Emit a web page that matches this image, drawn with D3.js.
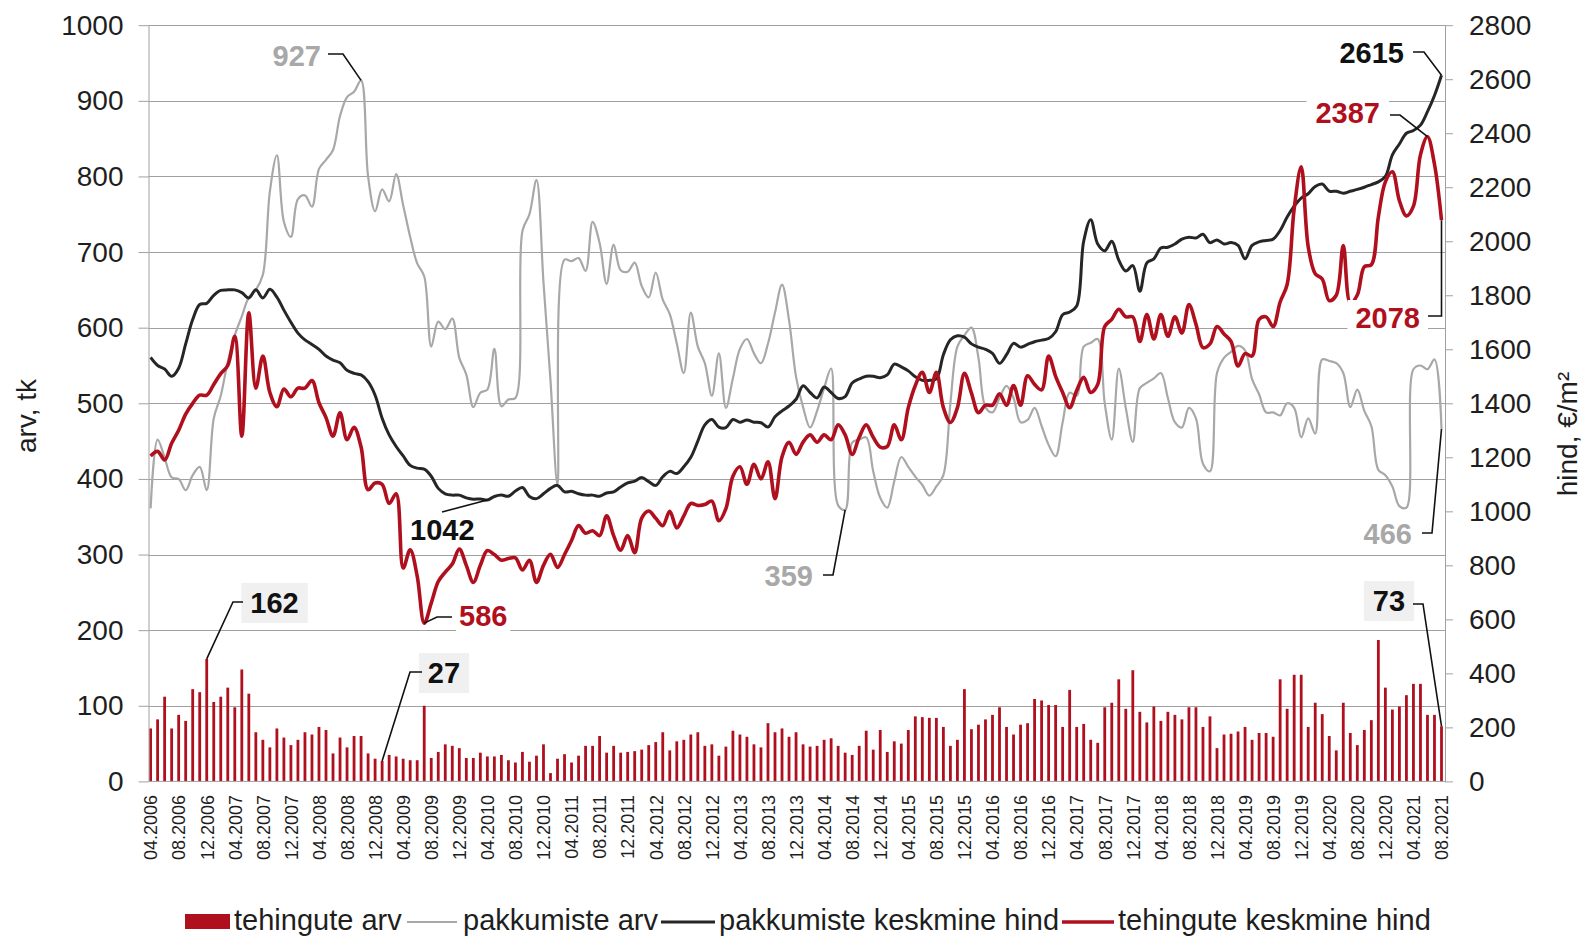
<!DOCTYPE html>
<html><head><meta charset="utf-8">
<script src="https://cdn.jsdelivr.net/npm/d3@7"></script>
<style>
html,body{margin:0;padding:0;background:#fff;overflow:hidden;}
svg{display:block;}
</style></head><body>
<svg id="c" width="1583" height="936"></svg>
<script>
// ---------- DATA ----------
const tickLabels = ["04.2006","08.2006","12.2006","04.2007","08.2007","12.2007","04.2008","08.2008","12.2008","04.2009","08.2009","12.2009","04.2010","08.2010","12.2010","04.2011","08.2011","12.2011","04.2012","08.2012","12.2012","04.2013","08.2013","12.2013","04.2014","08.2014","12.2014","04.2015","08.2015","12.2015","04.2016","08.2016","12.2016","04.2017","08.2017","12.2017","04.2018","08.2018","12.2018","04.2019","08.2019","12.2019","04.2020","08.2020","12.2020","04.2021","08.2021"];

// tehingute arv (bars, left axis)
const deals = [
70,82,112,70,88,80,122,118,162,105,
112,124,98,148,116,65,55,45,70,58,
48,55,65,62,72,68,37,58,45,60,
60,37,30,27,35,33,30,28,28,100,
31,39,49,47,44,31,31,38,33,33,
35,28,25,39,26,34,49,11,30,36,
25,34,47,47,60,38,47,38,39,40,
42,48,52,65,41,53,55,62,65,47,
49,34,46,67,62,59,49,45,77,65,
70,59,65,49,46,47,55,57,47,38,
35,47,67,42,68,39,53,50,68,86,
85,84,84,72,47,55,122,69,75,82,
88,98,72,62,75,77,109,107,101,101,
72,121,72,76,55,51,98,104,135,96,
147,92,78,99,80,92,88,82,98,98,
72,86,44,62,63,66,72,55,64,64,
59,135,96,141,141,72,104,89,60,41,
104,64,48,68,81,187,124,95,99,114,
129,129,88,88,73];

// pakkumiste arv (grey line, left axis)
const offers = [
361,452,428,402,400,385,405,416,385,480,
510,555,590,615,640,650,670,780,828,740,
720,770,775,760,810,822,835,880,905,912,
927,800,754,783,767,803,762,720,685,668,
575,608,598,612,560,538,495,514,518,572,
496,505,507,728,750,795,660,530,392,690,
688,692,675,740,712,658,710,676,674,686,
655,640,673,637,618,579,540,620,575,553,
510,566,494,533,572,585,566,553,579,620,
657,610,535,495,468,490,520,546,365,359,
448,452,455,410,375,362,397,429,416,403,
392,378,390,405,500,575,590,600,560,495,
488,507,523,507,475,478,494,470,445,430,
475,514,510,575,580,585,500,452,546,494,
449,520,527,533,540,507,475,468,494,480,
420,410,540,560,568,576,570,532,512,488,
488,484,500,494,455,480,460,558,556,553,
540,495,518,490,470,412,405,390,364,362,
545,550,545,558,466];

// pakkumiste keskmine hind (black line, right axis)
const offerPrice = [
1570,1540,1527,1500,1530,1620,1710,1766,1770,1800,
1818,1820,1820,1810,1790,1820,1790,1822,1793,1745,
1700,1660,1635,1618,1600,1575,1560,1550,1522,1511,
1505,1480,1430,1345,1283,1240,1205,1170,1160,1156,
1130,1085,1065,1060,1060,1050,1045,1046,1042,1055,
1060,1056,1075,1088,1055,1047,1065,1085,1096,1072,
1074,1065,1060,1060,1056,1068,1072,1090,1105,1112,
1125,1110,1096,1128,1148,1140,1165,1200,1260,1320,
1340,1312,1310,1340,1330,1338,1330,1328,1312,1350,
1372,1390,1415,1465,1440,1420,1460,1440,1418,1425,
1475,1490,1500,1500,1495,1505,1545,1535,1520,1498,
1485,1485,1490,1580,1635,1650,1645,1620,1608,1600,
1585,1548,1580,1622,1608,1618,1628,1634,1640,1665,
1728,1738,1760,2000,2080,1990,1965,2000,1930,1890,
1910,1815,1920,1935,1975,1978,1990,2008,2015,2012,
2026,1995,2005,1990,1995,1985,1935,1985,1998,2003,
2008,2040,2090,2130,2160,2176,2203,2212,2186,2185,
2178,2185,2192,2200,2210,2220,2240,2320,2360,2400,
2410,2430,2480,2540,2615];

// tehingute keskmine hind (red line, right axis)
const dealPrice = [
1205,1222,1190,1252,1300,1360,1400,1430,1430,1470,
1510,1540,1648,1278,1735,1456,1575,1440,1387,1453,
1424,1456,1456,1484,1402,1347,1278,1365,1265,1311,
1238,1080,1105,1100,1029,1065,790,858,760,586,
660,740,775,805,860,800,737,800,855,840,
819,825,828,783,819,737,800,841,792,840,
892,947,919,928,910,983,910,856,910,847,
975,1001,974,947,1000,938,983,1029,1022,1025,
1038,965,1010,1130,1165,1100,1174,1120,1183,1047,
1202,1256,1211,1256,1283,1256,1283,1265,1320,1283,
1211,1274,1320,1274,1238,1240,1320,1265,1384,1466,
1515,1440,1515,1384,1329,1384,1511,1438,1365,1393,
1393,1435,1393,1466,1393,1502,1470,1450,1575,1500,
1440,1384,1447,1496,1440,1470,1684,1711,1748,1720,
1720,1629,1729,1638,1729,1648,1720,1660,1766,1693,
1606,1620,1684,1657,1629,1538,1584,1575,1711,1720,
1684,1775,1840,2120,2276,1980,1880,1860,1780,1800,
1984,1771,1801,1906,1913,2090,2220,2257,2150,2094,
2130,2320,2387,2285,2078];

const leftTicks = [0,100,200,300,400,500,600,700,800,900,1000];
const rightTicks = [0,200,400,600,800,1000,1200,1400,1600,1800,2000,2200,2400,2600,2800];

const legendNames = ["tehingute arv","pakkumiste arv","pakkumiste keskmine hind","tehingute keskmine hind"];

// month categories 04.2006 ... 08.2021
const months = [];
for (let k = 0; k < deals.length; k++) {
  const m = (3 + k) % 12 + 1, y = 2006 + Math.floor((3 + k) / 12);
  months.push(String(m).padStart(2, "0") + "." + y);
}

// ---------- STYLE ----------
const FONT = "'Liberation Sans', Arial, Helvetica, sans-serif";
const RED = "#b0101e", BLACK = "#262626", GREY = "#a8a8a8", AX = "#a0a0a0", TXT = "#1e1e1e";
const L = 148.5, R = 1445, T = 25.2, B = 781.4;

const svg = d3.select("#c").attr("font-family", FONT);
svg.append("rect").attr("width", 1583).attr("height", 936).attr("fill", "#fff");

const x = d3.scalePoint().domain(months).range([150.6, 1441.5]);
const yL = d3.scaleLinear().domain([0, 1000]).range([B, T]);
const yR = d3.scaleLinear().domain([0, 2800]).range([B, T]);

// gridlines
svg.append("g").selectAll("line").data(leftTicks.slice(1)).join("line")
  .attr("x1", L).attr("x2", R)
  .attr("y1", d => Math.round(yL(d)) + 0.5).attr("y2", d => Math.round(yL(d)) + 0.5)
  .attr("stroke", AX).attr("stroke-width", 1);

// bars
svg.append("g").selectAll("rect").data(deals).join("rect")
  .attr("x", (d, i) => x(months[i]) - 1.4).attr("width", 2.8)
  .attr("y", d => yL(d)).attr("height", d => B - yL(d))
  .attr("fill", RED);

// lines
const mk = sc => d3.line().x((d, i) => x(months[i])).y(d => sc(d)).curve(d3.curveCatmullRom.alpha(0.5));
svg.append("path").datum(offers).attr("d", mk(yL)).attr("fill", "none").attr("stroke", GREY).attr("stroke-width", 2.2);
svg.append("path").datum(offerPrice).attr("d", mk(yR)).attr("fill", "none").attr("stroke", BLACK).attr("stroke-width", 3).attr("stroke-linejoin", "round");
svg.append("path").datum(dealPrice).attr("d", mk(yR)).attr("fill", "none").attr("stroke", RED).attr("stroke-width", 3.6).attr("stroke-linejoin", "round");

// axes
const axL = svg.append("g").attr("transform", `translate(${L},0)`)
  .call(d3.axisLeft(yL).tickValues(leftTicks).tickSize(10).tickSizeOuter(0).tickPadding(15).tickFormat(d3.format("d")));
const axR = svg.append("g").attr("transform", `translate(${R},0)`)
  .call(d3.axisRight(yR).tickValues(rightTicks).tickSize(8).tickSizeOuter(0).tickPadding(16).tickFormat(d3.format("d")));
[axL, axR].forEach(a => {
  a.attr("font-family", FONT).attr("font-size", 28);
  a.selectAll("path,line").attr("stroke", AX);
  a.selectAll("text").attr("fill", TXT);
});
svg.append("line").attr("x1", L).attr("x2", R).attr("y1", B).attr("y2", B).attr("stroke", AX);

const axX = svg.append("g").attr("transform", `translate(0,${B})`)
  .call(d3.axisBottom(x).tickValues(tickLabels).tickSize(0).tickSizeOuter(0));
axX.select(".domain").remove();
axX.attr("font-family", FONT).attr("font-size", 18);
axX.selectAll("text").attr("fill", TXT)
  .attr("transform", "rotate(-90)").attr("text-anchor", "end")
  .attr("x", -13.6).attr("y", 0).attr("dy", "0.35em");

// axis titles
svg.append("text").text("arv, tk").attr("transform", "translate(36,416) rotate(-90)")
  .attr("text-anchor", "middle").attr("font-size", 28).attr("fill", TXT);
svg.append("text").text("hind, €/m²").attr("transform", "translate(1577,434) rotate(-90)")
  .attr("text-anchor", "middle").attr("font-size", 28).attr("fill", TXT);

// annotations
const P = (arr, sc, i) => [x(months[i]), sc(arr[i])];
const notes = [
  {t: "927",  p: P(offers, yL, 30), c: GREY,  a: "end",    tx: 321,  ty: 66,  bg: "#fff",    pad: [3, 1], lead: [[328, 54], [343, 54]]},
  {t: "1042", p: P(offerPrice, yR, 48), c: "#111", a: "start", tx: 410, ty: 540, bg: "#fff", pad: [3, 0], lead: [[442, 512]]},
  {t: "586",  p: P(dealPrice, yR, 39), c: RED, a: "start",  tx: 459,  ty: 626, bg: "#fff",    pad: [3, 0], lead: [[452, 617], [437, 617]]},
  {t: "359",  p: P(offers, yL, 99), c: GREY,  a: "end",    tx: 813,  ty: 586, bg: "#fff",    pad: [3, 1], lead: [[823, 575], [833, 575]]},
  {t: "466",  p: P(offers, yL, 184), c: GREY, a: "end",    tx: 1412, ty: 544, bg: "#fff",    pad: [3, 1], lead: [[1422, 533], [1432, 533]]},
  {t: "2078", p: P(dealPrice, yR, 184), c: RED, a: "end",  tx: 1420, ty: 328, bg: "#fff",    pad: [8, 2], lead: [[1428, 316], [1441.5, 316]]},
  {t: "2387", p: P(dealPrice, yR, 182), c: RED, a: "end",  tx: 1380, ty: 123, bg: "#fff",    pad: [9, 2], lead: [[1390, 115], [1400, 115]]},
  {t: "2615", p: P(offerPrice, yR, 184), c: "#111", a: "end", tx: 1404, ty: 63, bg: "#fff",  pad: [6, 1], lead: [[1413, 52], [1424, 52]]},
  {t: "162",  p: P(deals, yL, 8), c: "#111",  a: "middle", tx: 274.5, ty: 613, bg: "#f0f0f0", pad: [9, 4], lead: [[243, 602], [233, 602]]},
  {t: "27",   p: P(deals, yL, 33), c: "#111", a: "middle", tx: 444,  ty: 683, bg: "#f0f0f0", pad: [9, 4], lead: [[422, 672], [410, 672]]},
  {t: "73",   p: P(deals, yL, 184), c: "#111", a: "middle", tx: 1389, ty: 611, bg: "#f0f0f0", pad: [9, 4], lead: [[1413, 604], [1423, 604]]}
];
const gN = svg.append("g");
notes.forEach(n => {
  const g = gN.append("g");
  const bgR = g.append("rect");
  const tx = g.append("text").text(n.t).attr("x", n.tx).attr("y", n.ty)
    .attr("text-anchor", n.a).attr("font-size", 29).attr("font-weight", "bold").attr("fill", n.c);
  const bb = tx.node().getBBox();
  bgR.attr("x", bb.x - n.pad[0]).attr("y", bb.y - n.pad[1])
    .attr("width", bb.width + 2 * n.pad[0]).attr("height", bb.height + 2 * n.pad[1]).attr("fill", n.bg);
  g.append("path").attr("d", d3.line()(n.lead.concat([n.p])))
    .attr("fill", "none").attr("stroke", "#111").attr("stroke-width", 1.6);
});

// legend
const lg = svg.append("g").attr("font-size", 29).attr("fill", TXT);
lg.append("rect").attr("x", 185).attr("y", 914).attr("width", 45).attr("height", 15).attr("fill", RED);
lg.append("line").attr("x1", 407).attr("x2", 457).attr("y1", 922).attr("y2", 922).attr("stroke", GREY).attr("stroke-width", 2.2);
lg.append("line").attr("x1", 661).attr("x2", 715).attr("y1", 922).attr("y2", 922).attr("stroke", BLACK).attr("stroke-width", 3);
lg.append("line").attr("x1", 1062).attr("x2", 1114).attr("y1", 922).attr("y2", 922).attr("stroke", RED).attr("stroke-width", 3.6);
const lx = [234, 463, 719, 1118];
legendNames.forEach((t, k) => lg.append("text").text(t).attr("x", lx[k]).attr("y", 930).attr("fill", TXT));
</script>
</body></html>
